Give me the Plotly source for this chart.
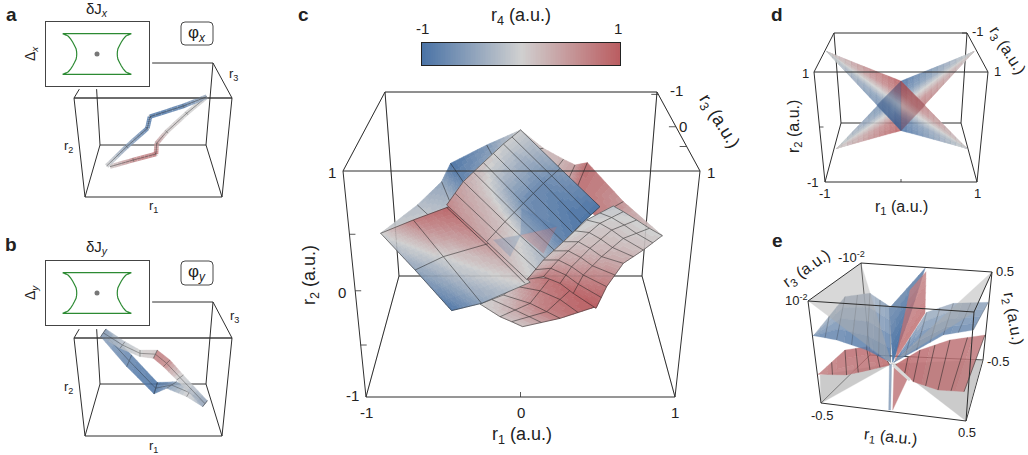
import numpy as np
import plotly.graph_objects as go

W, H = 1028, 455
FONT = "Liberation Sans"
INK = "#222222"
FRAME = "#2f2f2f"

# Diverging r4 colour ramp
BLUE, MID, RED = (74, 115, 166), (208, 208, 208), (186, 92, 96)
COLORSCALE = [[0, "rgb(74,115,166)"], [0.5, "rgb(208,208,208)"], [1, "rgb(186,92,96)"]]

# View centre and pixels per unit of each panel
VIEWS = {
    "a": (153, 123, 65, 45),
    "b": (153, 363, 65, 45),
    "c": (521.5, 227.5, 145, 101.5),
    "d": (901, 100, 74.3, 50),
    "e": (893, 345, 145, 120),
}

# Wireframe corners: F/B front/back, T/B top/bottom, L/R left/right
FRAMES = {
    "a": dict(FTL=(74, 98), FTR=(232, 98), BTL=(95, 63), BTR=(213, 63), FBL=(85, 197), FBR=(222, 197), BBL=(100, 145), BBR=(206, 145)),
    "b": dict(FTL=(74, 338), FTR=(232, 338), BTL=(95, 302), BTR=(213, 302), FBL=(85, 436), FBR=(222, 436), BBL=(100, 384), BBR=(206, 384)),
    "c": dict(FTL=(343, 171), FTR=(700, 171), BTL=(385, 92), BTR=(657, 92), FBL=(366, 397), FBR=(675, 397), BBL=(399, 276), BBR=(642, 276)),
    "d": dict(FTL=(814, 72), FTR=(988, 72), BTL=(834, 33), BTR=(967, 33), FBL=(825, 182), FBR=(977, 182), BBL=(841, 123), BBR=(961, 123)),
    "e": dict(FTL=(808, 301), FTR=(974, 312), BTL=(861, 263), BTR=(992, 272), FBL=(821, 403), FBR=(966, 421), BBL=(870, 355), BBR=(983, 360)),
}
BACK_EDGES = [("BTL", "BTR"), ("BTL", "BBL"), ("BTR", "BBR"), ("BBL", "BBR"), ("FTL", "BTL"), ("FTR", "BTR"), ("FBL", "BBL"), ("FBR", "BBR")]
FRONT_EDGES = [("FTL", "FTR"), ("FTL", "FBL"), ("FTR", "FBR"), ("FBL", "FBR")]

# Panel c: operating surface (r1, r2 on the r3 = 0 plane, r4 as colour)
C_BACKLEFT_R1 = [[-.971, -.718, -.551, -.489, -.240, -.006], [-.971, -.631, -.470, -.355, -.171, -.006]]
C_BACKLEFT_R2 = [[-.057, .222, .452, .632, .813, .961], [-.057, .107, .172, .353, .632, .961]]
C_BACKLEFT_R4 = [[-.05, -.2, -.45, -.95, -.6, 0], [0, -.1, -.2, -.7, -.4, 0]]

C_BACKRIGHT_R1 = [[-.006, .151, .289, .369, .454, .702, .971], [-.006, .036, .197, .289, .357, .518, .971]]
C_BACKRIGHT_R2 = [[.961, .780, .672, .616, .639, .255, -.080], [.961, .764, .501, .370, .304, .107, -.080]]
C_BACKRIGHT_R4 = [[0, .15, .25, .4, .85, .45, 0], [0, .05, .2, .4, .7, .75, .05]]

C_BOTTOM_R1 = [[.036, .197, .357, .514], [-.125, .059, .174, .266], [-.286, -.148, -.068, .008]]
C_BOTTOM_R2 = [[-.490, -.500, -.590, -.780], [-.665, -.747, -.829, -.895], [-.754, -.879, -.928, -.977]]
C_BOTTOM_R4 = [[.55, .8, .9, .98], [.1, .55, .7, .7], [0, .1, .1, .1]]

C_LEFT_R1 = [[-.971, -.746, -.490], [-.734, -.539, -.220], [-.482, -.275, .060]]
C_LEFT_R2 = [[-.057, .074, .210], [-.419, -.287, -.155], [-.819, -.747, -.540]]
C_LEFT_R4 = [[0, .7, .9], [-.45, 0, .5], [-.95, -.5, .05]]
C_FOLD_R1 = [-.516, -.240, .024]
C_FOLD_R2 = [.198, -.172, -.550]

C_CENTRE_R1 = [[-.006, -.125, -.263, -.401, -.516], [.266, .151, .013, -.114, -.240], [.541, .415, .289, .174, .036]]
C_CENTRE_R2 = [[.961, .823, .639, .452, .222], [.583, .435, .238, .057, -.140], [.205, .041, -.140, -.320, -.511]]
C_CENTRE_R4 = [[-.02, -.02, .1, .3, .6], [-.55, -.75, -.7, .1, .35], [-.95, -.95, -.8, -.3, .05]]

C_RIGHT_R1 = [[.040, .151, .289, .449, .633], [.151, .254, .392, .541, .702], [.266, .346, .472, .622, .794],
              [.357, .426, .553, .702, .882], [.514, .587, .702, .840, .971]]
C_RIGHT_R2 = [[-.511, -.320, -.140, .074, .212], [-.484, -.320, -.140, .041, .156], [-.550, -.386, -.205, -.025, .074],
              [-.649, -.468, -.287, -.107, -.008], [-.796, -.583, -.353, -.222, -.080]]
C_RIGHT_R4 = [[.45, .15, .05, -.05, -.1], [.7, .35, .15, .05, -.05], [.8, .45, .2, .1, 0],
              [.9, .6, .3, .1, 0], [.98, .75, .35, .15, 0]]

# Panel c: inner sheets showing through the centre
C_INNER = [
    ([[-.006, -.006], [.243, .151]], [[-.074, -.074], [.008, -.255]], .8, .35),
    ([[.001, .001], [-.006, .243]], [[.189, .189], [-.074, .008]], -.9, .35),
    ([[-.006, -.006], [-.194, -.079]], [[-.074, -.074], [-.123, -.287]], -.8, .3),
]

# Panel d: four wings joining at the r1 = 0 edge
D_EDGE_R2 = [.38, .13, -.113, -.36, -.613]
D_RISING_R4 = [-1, -.8, 0, .8, 1]
D_FALLING_R4 = [1, .8, 0, -.8, -1]
D_WINGS = [
    (-.865, -.967, D_RISING_R4),
    (.982, .967, D_RISING_R4),
    (-1.0, .967, D_FALLING_R4),
    (.883, -.967, D_FALLING_R4),
]
D_OVERLAP_LEFT = ([0, 0, -.327], [.38, -.613, -.107])
D_OVERLAP_RIGHT = ([0, 0, .327], [.38, -.613, -.107])

# Panel e: gray planes, then blue and red sheets
E_GRAY_BACK = [([-.497, -.503, -.009], [-.486, -.25, -.156]), ([.501, .618, -.009], [-.631, -.125, -.156])]
E_GRAY_FRONT = [([-.584, -.221, -.009], [.367, .681, -.156]), ([.683, .559, -.009], [.611, .272, -.156])]

E_RED_L_R1 = [[-.515, -.331, -.182, -.039], [-.515, -.320, -.159, -.021]]
E_RED_L_R2 = [[-.244, -.042, -.014, -.133], [-.244, -.25, -.208, -.167]]
E_RED_L_R4 = [[.7, .85, .85, .9], [.7, .75, .8, .9]]
E_RED_R_R1 = [[.021, .186, .393, .634], [.021, .140, .310, .490]]
E_RED_R_R2 = [[-.161, -.042, .042, .083], [-.167, -.306, -.375, -.389]]
E_RED_R_R4 = [[.9, .85, .8, .75], [.9, .85, .8, .75]]
E_BLUE_L_R1 = [[-.549, -.331, -.159, -.021], [-.549, -.389, -.182, -.016]]
E_BLUE_L_R2 = [[.078, .403, .431, .319], [.078, .042, -.042, -.144]]
E_BLUE_L_R4 = [[-.4, -.25, -.25, -.5], [-.8, -.9, -.95, -1]]
E_BLUE_R_R1 = [[.007, .232, .416, .657], [.007, .163, .347, .554]]
E_BLUE_R_R2 = [[-.144, .272, .347, .356], [-.144, -.042, .083, .125]]
E_BLUE_R_R4 = [[-.9, -.3, -.3, -.5], [-1, -.95, -.85, -.8]]
E_VBLUE_R1 = [[-.025, .221], [-.002, .117]]
E_VBLUE_R2 = [[.306, .639], [-.144, .25]]
E_VBLUE_R4 = [[-.6, -.7], [-1, -1]]
E_VRED_R1 = [[.117, .228], [.014, .221]]
E_VRED_R2 = [[.458, .611], [-.125, .264]]
E_VRED_R4 = [[.7, .7], [.9, .9]]
E_LOW_BLUE_R1 = [[-.025, -.009], [-.030, -.016]]
E_LOW_BLUE_R2 = [[-.161, -.161], [-.542, -.542]]
E_LOW_RED_R1 = [[.007, .106], [-.002, -.002]]
E_LOW_RED_R2 = [[-.167, -.264], [-.542, -.542]]
E_STREAK_R1 = [.002, .117]
E_STREAK_R2 = [-.167, -.292]

# Panel a: two branches of the trajectory for phi_x
A_UP_R1 = [.826, .467, -.046, -.087, -.405, -.713]
A_UP_R2 = [.585, .378, .141, -.119, -.526, -.956]
A_UP_R4 = [-.3, -.85, -.95, -.85, -.45, -.05]
A_DOWN_R1 = [.826, .518, .210, .056, .046, -.303, -.662]
A_DOWN_R2 = [.585, .215, -.193, -.452, -.689, -.822, -.970]
A_DOWN_R4 = [-.05, 0, .1, .45, .75, .6, .05]

# Panel b: ribbons traced for phi_y
B_STRIPS = [
    ([[.067, .364, .595, .836], [.015, .210, .518, .764]], [[-.430, -.415, -.563, -.837], [-.689, -.563, -.748, -.970]], [-1, -.55, 0, -.4]),
    ([[-.723, -.328, .067], [-.805, -.405, .015]], [[.756, .178, -.430], [.585, -.081, -.689]], [-.5, -.85, -1]),
    ([[.067, .262, .467, .836], [.005, .159, .364, .764]], [[.289, .067, -.267, -.837], [.104, -.081, -.378, -.970]], [.7, .65, 0, -.4]),
    ([[-.723, -.431, -.2, .067], [-.805, -.508, -.2, .005]], [[.756, .474, .289, .289], [.585, .326, .141, .104]], [-.5, -.15, 0, .1]),
]

# Stability boundary of the insets: half-width against height
DJ_ARC = [1, .90, .835, .77, .71, .66, .61, .595, .59, .595, .61, .66, .71, .77, .835, .90, 1]
DELTA_ARC = [1, .93, .87, .74, .59, .43, .26, .13, 0, -.13, -.26, -.43, -.59, -.74, -.87, -.93, -1]
COLORBAR_R4 = np.linspace(-1, 1, 120)

fig = go.Figure()
layout_axes = {}
axis_count = 0


def new_axes(domain_x=(0, 1), domain_y=(0, 1), range_x=(0, 1), range_y=(0, 1), **extra):
    global axis_count
    axis_count += 1
    suffix = "" if axis_count == 1 else str(axis_count)
    common = dict(showgrid=False, zeroline=False, showticklabels=False, ticks="", fixedrange=True, **extra)
    layout_axes["xaxis" + suffix] = dict(domain=list(domain_x), range=list(range_x), anchor="y" + suffix, **common)
    layout_axes["yaxis" + suffix] = dict(domain=list(domain_y), range=list(range_y), anchor="x" + suffix, **common)
    return dict(xaxis="x" + suffix, yaxis="y" + suffix)


def view_axes(name):
    cx, cy, sx, sy = VIEWS[name]
    return new_axes(range_x=((0 - cx) / sx, (W - cx) / sx), range_y=((cy - H) / sy, cy / sy), visible=False)


def to_view(name, px):
    cx, cy, sx, sy = VIEWS[name]
    return (px[0] - cx) / sx, (cy - px[1]) / sy


def r4_color(value):
    value = max(-1, min(1, value))
    a, b, t = (MID, BLUE, -value) if value < 0 else (MID, RED, value)
    return "rgb(%d,%d,%d)" % tuple(round(a[i] + (b[i] - a[i]) * t) for i in range(3))


def add_lines(ax, xs, ys, color=FRAME, width=1.0, opacity=1.0):
    fig.add_trace(go.Scatter(x=xs, y=ys, mode="lines", line=dict(color=color, width=width, simplify=False),
                             opacity=opacity, hoverinfo="skip", showlegend=False, **ax))


def add_edges(ax, name, edges, width=1.0, opacity=1.0, color=FRAME):
    xs, ys = [], []
    for a, b in edges:
        pa, pb = to_view(name, FRAMES[name][a]), to_view(name, FRAMES[name][b])
        xs += [pa[0], pb[0], None]
        ys += [pa[1], pb[1], None]
    add_lines(ax, xs, ys, color, width, opacity)


def add_ticks(ax, name, a, b, fractions, dx, dy):
    xs, ys = [], []
    pa, pb = FRAMES[name][a], FRAMES[name][b]
    for f in fractions:
        px = (pa[0] + (pb[0] - pa[0]) * f, pa[1] + (pb[1] - pa[1]) * f)
        p0, p1 = to_view(name, px), to_view(name, (px[0] + dx, px[1] + dy))
        xs += [p0[0], p1[0], None]
        ys += [p0[1], p1[1], None]
    add_lines(ax, xs, ys, FRAME, 0.8)


def add_sheet(ax, r1, r2, r4, alpha=1.0, sub=8, grid="both", midline=False, bins=41, rows_div=1, cols_div=1, mesh_alpha=0.72):
    """Shade a node grid through small quads grouped by r4 colour, then rule its mesh lines."""
    r1, r2, r4 = np.array(r1, float), np.array(r2, float), np.array(r4, float)
    if r4.ndim == 0:
        r4 = np.full(r1.shape, float(r4))
    if r4.ndim == 1:
        r4 = np.tile(r4, (r1.shape[0], 1))
    groups = {}
    steps = np.linspace(0, 1, sub + 1)
    for i in range(r1.shape[0] - 1):
        for j in range(r1.shape[1] - 1):
            def mix(field, s, t):
                return ((1 - s) * (1 - t) * field[i, j] + (1 - s) * t * field[i, j + 1]
                        + s * (1 - t) * field[i + 1, j] + s * t * field[i + 1, j + 1])
            for k in range(sub):
                for m in range(sub):
                    s0, s1, t0, t1 = steps[k], steps[k + 1], steps[m], steps[m + 1]
                    shade = mix(r4, (s0 + s1) / 2, (t0 + t1) / 2)
                    key = int(round((shade + 1) / 2 * (bins - 1)))
                    xs, ys = groups.setdefault(key, ([], []))
                    for s, t in ((s0, t0), (s0, t1), (s1, t1), (s1, t0), (s0, t0)):
                        xs.append(mix(r1, s, t))
                        ys.append(mix(r2, s, t))
                    xs.append(None)
                    ys.append(None)
    for key, (xs, ys) in groups.items():
        color = r4_color(key / (bins - 1) * 2 - 1)
        fig.add_trace(go.Scatter(x=xs, y=ys, mode="lines", fill="toself", fillcolor=color,
                                 line=dict(color=color, width=0.6 if alpha == 1 else 0.3, simplify=False),
                                 opacity=alpha, hoverinfo="skip", showlegend=False, **ax))
    xs, ys = [], []
    if grid in ("both", "rows"):
        for pos in np.arange(0, r1.shape[0] - 1 + 1e-9, 1 / rows_div):
            i0 = min(int(pos), r1.shape[0] - 2)
            t = pos - i0
            xs += list(r1[i0] * (1 - t) + r1[i0 + 1] * t) + [None]
            ys += list(r2[i0] * (1 - t) + r2[i0 + 1] * t) + [None]
    if grid in ("both", "cols"):
        for pos in np.arange(0, r1.shape[1] - 1 + 1e-9, 1 / cols_div):
            j0 = min(int(pos), r1.shape[1] - 2)
            t = pos - j0
            xs += list(r1[:, j0] * (1 - t) + r1[:, j0 + 1] * t) + [None]
            ys += list(r2[:, j0] * (1 - t) + r2[:, j0 + 1] * t) + [None]
    if midline:
        xs += list(r1.mean(axis=0)) + [None]
        ys += list(r2.mean(axis=0)) + [None]
    if xs:
        add_lines(ax, xs, ys, "rgb(30,30,30)", 0.7, mesh_alpha)


def add_plain(ax, r1, r2, color, alpha):
    fig.add_trace(go.Scatter(x=list(r1) + [r1[0]], y=list(r2) + [r2[0]], mode="lines", fill="toself", fillcolor=color,
                             line=dict(color=color, width=0.3), opacity=alpha, hoverinfo="skip", showlegend=False, **ax))


def add_path_ribbon(ax, name, r1, r2, r4, width=4.6, sub=6):
    """Stroke a trajectory with an r4-coloured band, a dark core and short cross ticks."""
    _, _, sx, sy = VIEWS[name]
    groups = {}
    for i in range(len(r1) - 1):
        for k in range(sub):
            s0, s1 = k / sub, (k + 1) / sub
            key = round((r4[i] + (r4[i + 1] - r4[i]) * (s0 + s1) / 2) * 16)
            xs, ys = groups.setdefault(key, ([], []))
            xs += [r1[i] + (r1[i + 1] - r1[i]) * s0, r1[i] + (r1[i + 1] - r1[i]) * s1, None]
            ys += [r2[i] + (r2[i + 1] - r2[i]) * s0, r2[i] + (r2[i + 1] - r2[i]) * s1, None]
    for key, (xs, ys) in groups.items():
        add_lines(ax, xs, ys, r4_color(key / 16), width, 0.85)
    add_lines(ax, r1, r2, "rgb(40,40,40)", 0.7, 0.6)
    xs, ys = [], []
    for i in range(1, len(r1) - 1):
        dx, dy = (r1[i + 1] - r1[i - 1]) * sx, (r2[i + 1] - r2[i - 1]) * sy
        n = max(np.hypot(dx, dy), 1e-6)
        xs += [r1[i] - 2 * dy / n / sx, r1[i] + 2 * dy / n / sx, None]
        ys += [r2[i] + 2 * dx / n / sy, r2[i] - 2 * dx / n / sy, None]
    add_lines(ax, xs, ys, "rgb(40,40,40)", 0.6, 0.6)


def add_mask(ax, name, x0, y0, x1, y1):
    a, b = to_view(name, (x0, y0)), to_view(name, (x1, y1))
    add_plain(ax, [a[0], b[0], b[0], a[0]], [a[1], a[1], b[1], b[1]], "white", 1)


def add_inset(x0, y0, x1, y1):
    ax = new_axes((x0 / W, x1 / W), (1 - y1 / H, 1 - y0 / H), (-1.5, 1.5), (-1.574, 1.574),
                  showline=True, mirror=True, linecolor="#444444", linewidth=1)
    arc_x = [-v for v in DJ_ARC] + [v for v in DJ_ARC[::-1]] + [-DJ_ARC[0]]
    arc_y = DELTA_ARC + DELTA_ARC[::-1] + [DELTA_ARC[0]]
    add_lines(ax, arc_x, arc_y, "#2c8a33", 1.2)
    fig.add_trace(go.Scatter(x=[0], y=[0], mode="markers", marker=dict(size=5, color="#777777"),
                             hoverinfo="skip", showlegend=False, **ax))


# Panel a
ax = view_axes("a")
add_edges(ax, "a", BACK_EDGES + FRONT_EDGES)
add_mask(ax, "a", 41, 18, 152, 89)
add_path_ribbon(ax, "a", A_DOWN_R1, A_DOWN_R2, A_DOWN_R4)
add_path_ribbon(ax, "a", A_UP_R1, A_UP_R2, A_UP_R4)
add_edges(ax, "a", [("FTL", "FTR")], opacity=0.8)
add_inset(45.5, 22, 148.5, 86)

# Panel b
ax = view_axes("b")
add_edges(ax, "b", BACK_EDGES + FRONT_EDGES)
add_mask(ax, "b", 41, 257, 152, 329)
for strip_r1, strip_r2, strip_r4 in B_STRIPS:
    add_sheet(ax, strip_r1, strip_r2, strip_r4, alpha=0.85, sub=5, grid="cols", midline=True, mesh_alpha=0.5)
add_edges(ax, "b", [("FTL", "FTR")], opacity=0.8)
add_inset(45.5, 261, 148.5, 325)

# Panel c
ax = view_axes("c")
add_edges(ax, "c", BACK_EDGES)
add_sheet(ax, C_BACKLEFT_R1, C_BACKLEFT_R2, C_BACKLEFT_R4, grid="cols")
add_sheet(ax, C_BACKRIGHT_R1, C_BACKRIGHT_R2, C_BACKRIGHT_R4, grid="cols")
add_sheet(ax, C_BOTTOM_R1, C_BOTTOM_R2, C_BOTTOM_R4, rows_div=2)
add_sheet(ax, C_LEFT_R1, C_LEFT_R2, C_LEFT_R4, sub=12)
add_lines(ax, C_FOLD_R1, C_FOLD_R2, "rgb(30,30,30)", 0.8, 0.75)
add_sheet(ax, C_CENTRE_R1, C_CENTRE_R2, C_CENTRE_R4, sub=12, cols_div=2)
for inner_r1, inner_r2, inner_r4, inner_alpha in C_INNER:
    add_sheet(ax, inner_r1, inner_r2, inner_r4, alpha=inner_alpha, sub=1, grid=None)
add_sheet(ax, C_RIGHT_R1, C_RIGHT_R2, C_RIGHT_R4, cols_div=2)
add_edges(ax, "c", BACK_EDGES, opacity=0.12)
add_edges(ax, "c", FRONT_EDGES)
add_ticks(ax, "c", "FBL", "FBR", [0.5], 0, -5)
add_ticks(ax, "c", "FTL", "FBL", [0.28, 0.53, 0.77], 6, 0)
add_ticks(ax, "c", "BTR", "FTR", [0.03, 0.44, 0.69], -7, 0)

# Panel d
ax = view_axes("d")
add_edges(ax, "d", BACK_EDGES + FRONT_EDGES[1:])
for tip_r1, tip_r2, tip_r4 in D_WINGS:
    add_sheet(ax, [[tip_r1] * 5, [0] * 5], [[tip_r2] * 5, D_EDGE_R2], [[0] * 5, tip_r4],
              alpha=0.85, sub=12, grid=None, bins=41)
add_plain(ax, *D_OVERLAP_LEFT, "rgb(40,70,120)", 0.35)
add_plain(ax, *D_OVERLAP_RIGHT, "rgb(130,50,60)", 0.3)
add_edges(ax, "d", [("FTL", "FTR")])
add_ticks(ax, "d", "FBL", "FBR", [0.5], 0, -3)
add_ticks(ax, "d", "FTL", "FBL", [0.5], 4, 0)
add_ticks(ax, "d", "BTR", "FTR", [0.0], -5, 0)

# Panel e
ax = view_axes("e")
add_edges(ax, "e", [("BBL", "BBR"), ("BTL", "BBL"), ("BTR", "BBR"), ("FBL", "BBL"), ("FBR", "BBR")])
for gray_r1, gray_r2 in E_GRAY_BACK:
    add_plain(ax, gray_r1, gray_r2, "rgb(170,170,170)", 0.6)
add_sheet(ax, E_RED_L_R1, E_RED_L_R2, E_RED_L_R4, alpha=0.85, sub=3, grid="cols", cols_div=2)
add_sheet(ax, E_RED_R_R1, E_RED_R_R2, E_RED_R_R4, alpha=0.85, sub=3, grid="cols", cols_div=2)
add_sheet(ax, E_BLUE_L_R1, E_BLUE_L_R2, E_BLUE_L_R4, alpha=0.85, sub=4, grid="cols", cols_div=2, mesh_alpha=0.35)
add_sheet(ax, E_BLUE_R_R1, E_BLUE_R_R2, E_BLUE_R_R4, alpha=0.85, sub=4, grid="cols", cols_div=2, mesh_alpha=0.35)
for gray_r1, gray_r2 in E_GRAY_FRONT:
    add_plain(ax, gray_r1, gray_r2, "rgb(170,170,170)", 0.45)
add_sheet(ax, E_VBLUE_R1, E_VBLUE_R2, E_VBLUE_R4, alpha=1, sub=6, grid=None)
add_sheet(ax, E_VRED_R1, E_VRED_R2, E_VRED_R4, alpha=0.8, sub=6, grid=None)
add_sheet(ax, E_LOW_BLUE_R1, E_LOW_BLUE_R2, -.55, alpha=0.85, sub=1, grid=None)
add_sheet(ax, E_LOW_RED_R1, E_LOW_RED_R2, .75, alpha=0.85, sub=1, grid=None)
add_lines(ax, E_STREAK_R1, E_STREAK_R2, "#d9d9d9", 3)
add_edges(ax, "e", [("FTL", "FTR"), ("FTL", "FBL"), ("FTR", "FBR"), ("FBL", "FBR"), ("FTL", "BTL"), ("BTL", "BTR"), ("FTR", "BTR")])

# r4 colour bar
ax = new_axes((422 / W, 620 / W), (1 - 65 / H, 1 - 43 / H), (-1, 1), (0, 1),
              showline=True, mirror=True, linecolor="#222222", linewidth=1)
fig.add_trace(go.Heatmap(x=COLORBAR_R4, y=[0, 1], z=[COLORBAR_R4, COLORBAR_R4], colorscale=COLORSCALE, zmin=-1, zmax=1,
                         showscale=False, hoverinfo="skip", **ax))

# Text labels
LABELS = [
    ("<b>a</b>", 11, 15, 19, 0), ("<b>b</b>", 11, 244, 19, 0), ("<b>c</b>", 303, 15, 19, 0),
    ("<b>d</b>", 777, 15, 19, 0), ("<b>e</b>", 777, 240, 19, 0),
    ("δJ<sub><i>x</i></sub>", 97, 9, 15, 0), ("Δ<sub><i>x</i></sub>", 31, 54, 14, -90),
    ("r<sub>3</sub>", 233, 75, 13, 0), ("r<sub>2</sub>", 68, 146, 13, 0), ("r<sub>1</sub>", 153, 207, 13, 0),
    ("δJ<sub><i>y</i></sub>", 97, 248, 15, 0), ("Δ<sub><i>y</i></sub>", 31, 293, 14, -90),
    ("r<sub>3</sub>", 234, 316, 13, 0), ("r<sub>2</sub>", 68, 387, 13, 0), ("r<sub>1</sub>", 153, 446, 13, 0),
    ("φ<sub><i>x</i></sub>", 197, 34, 17, 0), ("φ<sub><i>y</i></sub>", 197, 273, 17, 0),
    ("r<sub>4</sub> (a.u.)", 521, 17, 18, 0), ("-1", 422, 28, 15, 0), ("1", 618, 28, 15, 0),
    ("1", 332, 172, 15, 0), ("1", 711, 172, 15, 0), ("0", 342, 292, 15, 0), ("-1", 352, 395, 15, 0),
    ("-1", 366, 412, 15, 0), ("0", 521, 412, 15, 0), ("1", 675, 412, 15, 0),
    ("r<sub>1</sub> (a.u.)", 522, 435, 18, 0), ("r<sub>2</sub> (a.u.)", 310, 275, 18, -90),
    ("-1", 676, 91, 15, 0), ("0", 683, 126, 15, 0), ("r<sub>3</sub> (a.u.)", 718, 122, 18, 58),
    ("-1", 978, 32, 13, 0), ("1", 997, 71, 13, 0), ("1", 805, 73, 13, 0), ("-1", 813, 182, 13, 0),
    ("-1", 825, 193, 13, 0), ("1", 977, 193, 13, 0), ("r<sub>1</sub> (a.u.)", 901, 208, 16, 0),
    ("r<sub>2</sub> (a.u.)", 794, 127, 16, -90), ("r<sub>3</sub> (a.u.)", 1007, 50, 16, 58),
    ("r<sub>3</sub> (a.u.)", 806, 269, 16, -35), ("-10<sup>-2</sup>", 851, 257, 13, 0), ("10<sup>-2</sup>", 796, 300, 13, 0),
    ("0.5", 1005, 271, 13, 0), ("r<sub>2</sub> (a.u.)", 1013, 318, 16, 80), ("-0.5", 998, 361, 13, 0),
    ("-0.5", 822, 415, 13, 0), ("0.5", 967, 432, 13, 0), ("r<sub>1</sub> (a.u.)", 890, 437, 16, 6),
]
annotations = [
    dict(text=text, x=x / W, y=1 - y / H, xref="paper", yref="paper", showarrow=False, textangle=angle,
         xanchor="center", yanchor="middle", font=dict(family=FONT, size=size, color=INK))
    for text, x, y, size, angle in LABELS
]


def rounded_box(x0, y0, x1, y1, r=4):
    px, py = lambda v: v / W, lambda v: 1 - v / H
    path = (f"M {px(x0 + r)} {py(y0)} L {px(x1 - r)} {py(y0)} Q {px(x1)} {py(y0)} {px(x1)} {py(y0 + r)} "
            f"L {px(x1)} {py(y1 - r)} Q {px(x1)} {py(y1)} {px(x1 - r)} {py(y1)} "
            f"L {px(x0 + r)} {py(y1)} Q {px(x0)} {py(y1)} {px(x0)} {py(y1 - r)} "
            f"L {px(x0)} {py(y0 + r)} Q {px(x0)} {py(y0)} {px(x0 + r)} {py(y0)} Z")
    return dict(type="path", path=path, xref="paper", yref="paper", line=dict(color="#333333", width=0.9))


fig.update_layout(
    width=W, height=H, margin=dict(l=0, r=0, t=0, b=0), autosize=False,
    paper_bgcolor="white", plot_bgcolor="rgba(0,0,0,0)", showlegend=False,
    annotations=annotations,
    shapes=[rounded_box(181, 22, 213, 45), rounded_box(181, 261, 213, 285)],
    **layout_axes,
)
fig.write_html("out.html", config=dict(displayModeBar=False))
